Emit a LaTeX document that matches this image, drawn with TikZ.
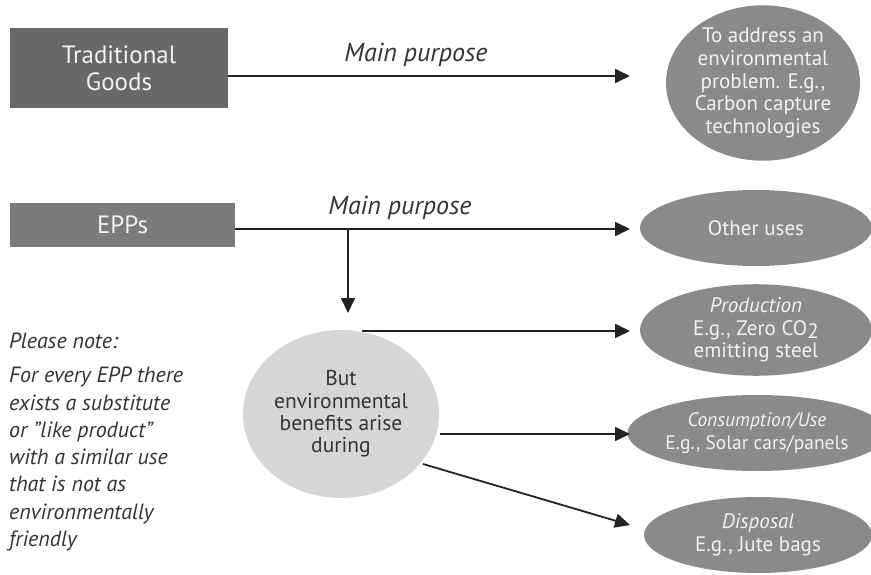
\documentclass[tikz,border=0pt]{standalone}
\usepackage{fontspec}
\setmainfont{PT Sans}
\usetikzlibrary{arrows.meta,shapes.geometric}
\definecolor{boxdark}{HTML}{68686A}
\definecolor{boxmid}{HTML}{7B7B7D}
\definecolor{ellgray}{HTML}{8A8A8C}
\definecolor{circgray}{HTML}{D6D6D6}
\definecolor{linecol}{HTML}{222222}
\definecolor{lighttext}{HTML}{F2F2F2}
\definecolor{darktext}{HTML}{333333}
\tikzset{
  boxnode/.style={rectangle, inner sep=0pt, text=lighttext, align=center, font=\fontsize{25}{27}\selectfont},
  ellnode/.style={ellipse, inner sep=0pt, fill=ellgray, text=lighttext, align=center, font=\fontsize{21}{22.7}\selectfont},
  arr/.style={draw=linecol, line width=1.8pt, -{Triangle[length=15pt,width=14pt]}},
  lbl/.style={font=\fontsize{26}{28}\selectfont\itshape, text=darktext},
  notetext/.style={anchor=north west, align=left, inner sep=0pt, text=darktext, font=\fontsize{22}{27.3}\selectfont\itshape},
}
\begin{document}
\begin{tikzpicture}[x=1pt,y=-1pt]
\useasboundingbox (0,0) rectangle (871,575);
% boxes
\node[boxnode, fill=boxdark, minimum width=218pt, minimum height=80pt] (tg) at (119,68) {Traditional\\Goods};
\node[boxnode, fill=boxmid, minimum width=225pt, minimum height=44pt] (epp) at (122.5,225) {EPPs};
% ellipses
\node[ellnode, minimum width=194pt, minimum height=148pt] (e1) at (763,83) {To address an\\environmental\\problem. E.g.,\\Carbon capture\\technologies};
\node[ellnode, minimum width=232pt, minimum height=76pt] (oth) at (756,228) {Other uses};
\node[ellnode, minimum width=232pt, minimum height=80pt] (prod) at (756,330) {\textit{Production}\\E.g., Zero CO\raisebox{-3pt}{2}\\emitting steel};
\node[ellnode, minimum width=230pt, minimum height=76pt, font=\fontsize{19.5}{22.7}\selectfont] (cons) at (757,433) {\textit{Consumption/Use}\\E.g., Solar cars/panels};
\node[ellnode, minimum width=228pt, minimum height=76pt] (disp) at (758,535) {\textit{Disposal}\\E.g., Jute bags};
% circle
\node[ellipse, inner sep=0pt, fill=circgray, text=darktext, align=center, font=\fontsize{21.5}{22.3}\selectfont, minimum width=196pt, minimum height=168pt] (circ) at (341,414) {But\\environmental\\benefits arise\\during};
% note
\node[notetext] (note) at (9,333) {Please note:};
\node[notetext] (notebody) at (9,367) {For every EPP there\\exists a substitute\\or "like product"\\with a similar use\\that is not as\\environmentally\\friendly};
% coordinates for arrows
\coordinate (t1) at (630,76);
\coordinate (t2) at (630,229);
\coordinate (br) at (348,229);
\coordinate (t3) at (348,313);
\coordinate (s4) at (362,331);
\coordinate (t4) at (630,331);
\coordinate (s5) at (440,434);
\coordinate (t5) at (630,434);
\coordinate (s6) at (423,464);
\coordinate (t6) at (630,525);
% arrows
\draw[arr] (tg.east |- t1) -- (t1);
\draw[arr] (epp.east |- t2) -- (t2);
\draw[arr] (br) -- (t3);
\draw[arr] (s4) -- (t4);
\draw[arr] (s5) -- (t5);
\draw[arr] (s6) -- (t6);
% labels
\node[lbl] (mp1) at (416,55) {Main purpose};
\node[lbl] (mp2) at (400,208) {Main purpose};
\end{tikzpicture}
\end{document}
